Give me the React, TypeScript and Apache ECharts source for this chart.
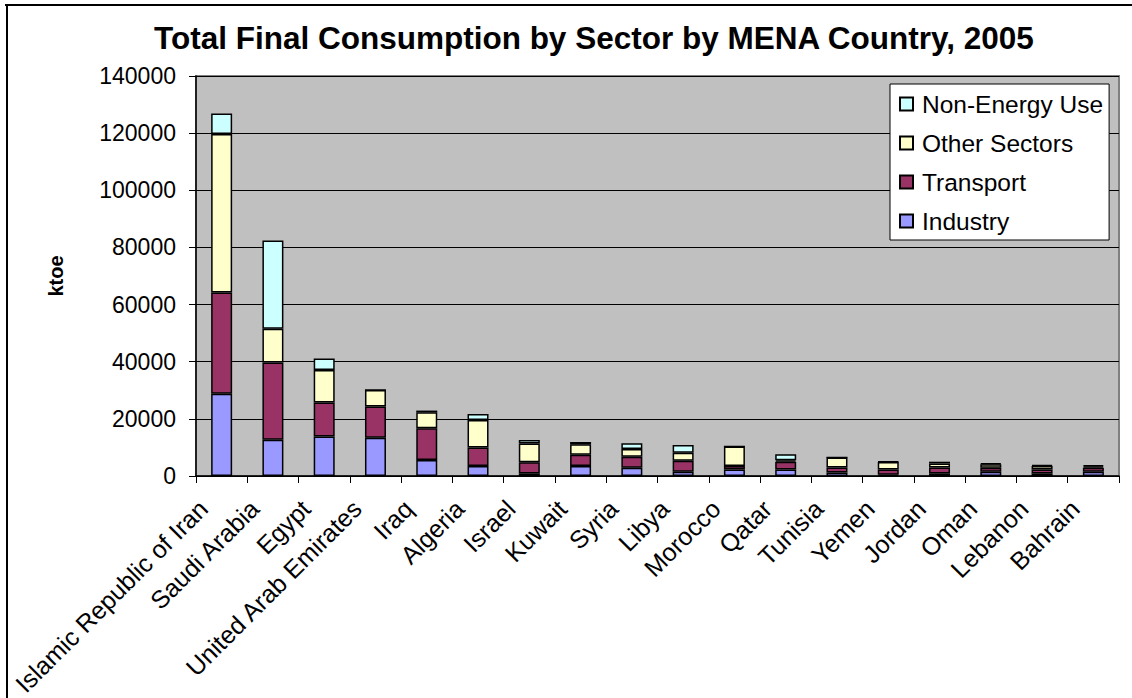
import React, { useEffect, useRef } from "react";
import * as echarts from "echarts";

const countries = [
  "Islamic Republic of Iran", "Saudi Arabia", "Egypt", "United Arab Emirates", "Iraq",
  "Algeria", "Israel", "Kuwait", "Syria", "Libya", "Morocco", "Qatar", "Tunisia",
  "Yemen", "Jordan", "Oman", "Lebanon", "Bahrain",
];
const industry = [28800, 12700, 13800, 13400, 5600, 3500, 900, 3500, 2900, 1500, 2300, 2300, 1200, 400, 900, 1500, 900, 1500];
const transport = [35400, 27000, 11900, 10900, 11100, 6500, 3900, 3900, 3850, 3850, 1200, 2700, 1800, 1900, 2100, 1400, 1400, 1400];
const otherSectors = [55500, 11800, 11400, 5800, 5600, 9600, 6600, 3700, 2700, 2800, 6800, 500, 3500, 2600, 1400, 1200, 1200, 500];
const nonEnergy = [7200, 30900, 4000, 0, 600, 2100, 1200, 800, 2000, 2700, 0, 2100, 0, 200, 600, 300, 300, 400];
const yTicks = { min: 0, max: 140000, interval: 20000 };

const FONT = "'Liberation Sans', Arial, sans-serif";

export default function App() {
  const ref = useRef<HTMLDivElement>(null);
  useEffect(() => {
    if (!ref.current) return;
    const chart = echarts.init(ref.current, null, { renderer: "svg" });
    const mk = (name: string, data: number[], color: string) => ({
      name,
      type: "bar",
      stack: "total",
      data,
      barWidth: 21,
      itemStyle: { color, borderColor: "#000", borderWidth: 1.5 },
    });
    chart.setOption({
      animation: false,
      backgroundColor: "#fff",
      textStyle: { fontFamily: FONT },
      title: {
        text: "Total Final Consumption by Sector by MENA Country, 2005",
        left: 149,
        top: 17,
        textStyle: { fontSize: 31.5, fontWeight: "bold", color: "#000", fontFamily: FONT },
      },
      graphic: [
        { type: "line", shape: { x1: 5, y1: 5, x2: 1132, y2: 5 }, style: { stroke: "#000", lineWidth: 2 } },
        { type: "line", shape: { x1: 7, y1: 5, x2: 7, y2: 698 }, style: { stroke: "#000", lineWidth: 2 } },
      ],
      legend: {
        data: ["Non-Energy Use", "Other Sectors", "Transport", "Industry"],
        orient: "vertical",
        left: 890,
        top: 84,
        backgroundColor: "#fff",
        borderColor: "#000",
        borderWidth: 1,
        padding: [7, 6, 6, 9],
        itemWidth: 13,
        itemHeight: 13,
        itemGap: 13,
        icon: "rect",
        textStyle: { fontSize: 24.5, color: "#000", fontFamily: FONT, lineHeight: 26, padding: [0, 0, 0, 4] },
      },
      grid: {
        left: 196,
        top: 76,
        right: 13,
        bottom: 222,
        containLabel: false,
        outerBoundsMode: "none",
        show: true,
        backgroundColor: "#C0C0C0",
        borderColor: "#808080",
        borderWidth: 2,
      },
      xAxis: {
        type: "category",
        data: countries,
        axisLine: { lineStyle: { color: "#000", width: 1.5 } },
        axisTick: { show: true, length: 7, lineStyle: { color: "#000" } },
        axisLabel: {
          interval: 0,
          rotate: 45,
          margin: 10,
          padding: [0, 26, 0, 0],
          fontSize: 25,
          color: "#000",
          fontFamily: FONT,
        },
      },
      yAxis: {
        type: "value",
        min: yTicks.min,
        max: yTicks.max,
        interval: yTicks.interval,
        name: "ktoe",
        nameLocation: "middle",
        nameGap: 130,
        nameTextStyle: { fontSize: 20, fontWeight: "bold", color: "#000", fontFamily: FONT },
        axisLine: { show: true, lineStyle: { color: "#000", width: 1.5 } },
        axisTick: { show: true, length: 7, lineStyle: { color: "#000" } },
        axisLabel: {
          fontSize: 23,
          color: "#000",
          margin: 20,
          fontFamily: FONT,
          formatter: (v: number) => String(v),
        },
        splitLine: { show: true, lineStyle: { color: "#000", width: 1 } },
      },
      series: [
        mk("Industry", industry, "#9999FF"),
        mk("Transport", transport, "#993366"),
        mk("Other Sectors", otherSectors, "#FFFFCC"),
        mk("Non-Energy Use", nonEnergy, "#CCFFFF"),
      ],
    });
    return () => chart.dispose();
  }, []);
  return (
    <div
      ref={ref}
      style={{ position: "fixed", left: 0, top: 0, width: 1132, height: 698 }}
    />
  );
}
